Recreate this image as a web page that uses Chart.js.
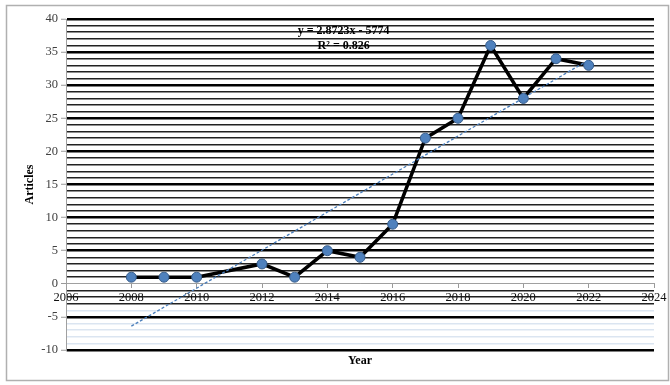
<!DOCTYPE html>
<html>
<head>
<meta charset="utf-8">
<script src="https://cdn.jsdelivr.net/npm/chart.js@4"></script>
<style>
  html, body { margin: 0; padding: 0; background: #fff; }
  #wrap { width: 670px; height: 385px; }
</style>
</head>
<body>
<div id="wrap"><canvas id="articlesChart" width="670" height="385"></canvas></div>
<script>
// ===========================
// Données
// ===========================
const years = [2008, 2009, 2010, 2012, 2013, 2014, 2015, 2016, 2017, 2018, 2019, 2020, 2021, 2022];
const articles = [1, 1, 1, 3, 1, 5, 4, 9, 22, 25, 36, 28, 34, 33];

// Extrémités de la courbe de tendance
const trendYears = [2008, 2022];
const trendValues = [-6.4, 33.8];

const equationLines = ['y = 2.8723x - 5774', 'R² = 0.826'];

const serif = '"Liberation Serif", "Times New Roman", serif';

// ===========================
// Plugins : cadre et équation
// ===========================
const cadrePlugin = {
    id: 'cadre',
    beforeDraw(chart) {
        const ctx = chart.ctx;
        ctx.save();
        ctx.fillStyle = '#fff';
        ctx.fillRect(0, 0, chart.width, chart.height);
        ctx.strokeStyle = '#b0b0b0';
        ctx.lineWidth = 1.5;
        ctx.strokeRect(6.5, 5.5, 662, 375);
        ctx.restore();
    }
};

const equationPlugin = {
    id: 'equation',
    afterDatasetsDraw(chart) {
        const ctx = chart.ctx;
        const cx = chart.scales.x.getPixelForValue(2014.5);
        const top = chart.scales.y.getPixelForValue(38.2);
        ctx.save();
        ctx.font = 'bold 12px ' + serif;
        ctx.fillStyle = '#000';
        ctx.textAlign = 'center';
        ctx.textBaseline = 'middle';
        equationLines.forEach((t, i) => ctx.fillText(t, cx, top + i * 14.5));
        ctx.restore();
    }
};

// ===========================
// Graphique
// ===========================
function gridColor(v) {
    if (v === 0) return '#a0a0a0';
    if (v % 5 === 0) return '#000';
    if (v >= -3) return '#222';
    return '#dbe5f1';
}

function sansMarges(scale) {
    scale.paddingLeft = 0;
    scale.paddingRight = 0;
}

// Les lignes de grille débordaient à droite : on les coupe au bord de l'axe x
function couperGrille(scale) {
    if (scale._grilleCoupee) return;
    const dessin = scale.drawGrid.bind(scale);
    scale.drawGrid = function (area) {
        const c = this.ctx;
        c.save();
        c.beginPath();
        c.rect(0, 0, this.chart.scales.x.right + 1, this.chart.height);
        c.clip();
        dessin(area);
        c.restore();
    };
    scale._grilleCoupee = true;
}

const ctxArticles = document.getElementById('articlesChart').getContext('2d');
const articlesChart = new Chart(ctxArticles, {
    type: 'scatter',
    data: {
        datasets: [
            {
                label: 'Tendance',
                data: trendYears.map((y, i) => ({ x: y, y: trendValues[i] })),
                showLine: true,
                borderColor: '#4a7ebb',
                borderWidth: 1.3,
                borderDash: [3, 2],
                pointRadius: 0,
                fill: false
            },
            {
                label: 'Articles',
                data: years.map((y, i) => ({ x: y, y: articles[i] })),
                showLine: true,
                borderColor: '#000',
                borderWidth: 3.5,
                pointRadius: 5,
                pointBackgroundColor: '#4f81bd',
                pointBorderColor: '#385d8a',
                pointBorderWidth: 1,
                fill: false
            }
        ]
    },
    options: {
        responsive: false,
        animation: false,
        layout: { padding: { left: 0, right: 16, top: 19, bottom: 0 } },
        plugins: {
            legend: { display: false },
            tooltip: { enabled: false }
        },
        scales: {
            x: {
                type: 'linear',
                position: { y: 0 },
                min: 2006,
                max: 2024,
                ticks: {
                    stepSize: 2,
                    padding: 2,
                    color: '#111',
                    font: { family: serif, size: 12.5 },
                    callback: v => String(v)
                },
                grid: { drawOnChartArea: false, tickLength: 4, tickColor: '#999' },
                border: { color: '#a0a0a0' },
                afterFit: sansMarges
            },
            x2: {
                type: 'linear',
                position: 'bottom',
                min: 2006,
                max: 2024,
                ticks: { display: false },
                grid: { display: false },
                border: { display: false },
                title: {
                    display: true,
                    text: 'Year',
                    color: '#000',
                    font: { family: serif, size: 12, weight: 'bold' },
                    padding: { top: 0, bottom: 17 }
                },
                afterFit(scale) {
                    sansMarges(scale);
                    scale.height = 35;
                }
            },
            y: {
                min: -10,
                max: 40,
                ticks: {
                    stepSize: 1,
                    maxTicksLimit: 100,
                    autoSkip: false,
                    padding: 3,
                    color: '#404040',
                    font: { family: serif, size: 12.5 },
                    callback: v => (v % 5 === 0 ? String(v) : '')
                },
                grid: {
                    color: c => gridColor(c.tick.value),
                    lineWidth: c => (c.tick.value === 0 ? 1 : (c.tick.value % 5 === 0 ? 2.5 : 1.5)),
                    tickLength: 5,
                    tickColor: c => (c.tick && c.tick.value % 5 === 0 ? '#999' : 'rgba(0,0,0,0)'),
                    tickWidth: 1
                },
                border: { color: '#a0a0a0' },
                title: {
                    display: true,
                    text: 'Articles',
                    color: '#000',
                    font: { family: serif, size: 12, weight: 'bold' },
                    padding: { top: 23, bottom: 4 }
                },
                afterFit(scale) {
                    scale.width = 66;
                    couperGrille(scale);
                }
            }
        }
    },
    plugins: [cadrePlugin, equationPlugin]
});
</script>
</body>
</html>
